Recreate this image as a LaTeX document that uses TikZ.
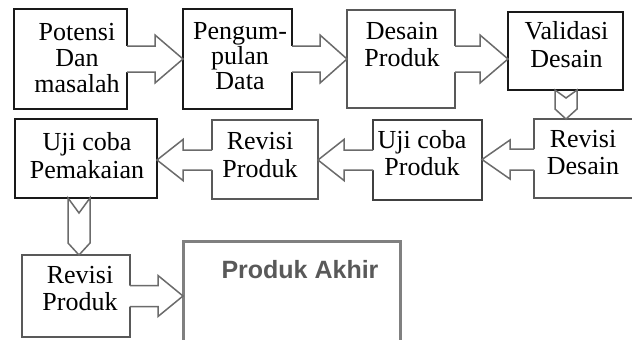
\documentclass[tikz,border=0pt]{standalone}
\usepackage{fontspec}
\setmainfont{Liberation Serif}
\setsansfont{Liberation Sans}
\usetikzlibrary{calc}
\tikzset{
  box/.style={draw=#1, line width=1.5pt, rectangle, inner sep=0pt, outer sep=0pt},
  txt/.style={align=center, anchor=north, inner sep=0pt, font=\fontsize{26}{27}\selectfont},
  arr/.style={draw=black!58, line width=1.5pt, line join=miter},
}
% rightward block arrow: from, to, y-coordinate, shaft half, head half, head length
\newcommand\rblock[6]{%
  \fill[white] ($(#1.east|-#3)+(-1.5,-#4)$) -- ($(#2.west|-#3)+(-#6,-#4)$) -- ($(#2.west|-#3)+(-#6,-#5)$) -- (#2.west|-#3) -- ($(#2.west|-#3)+(-#6,#5)$) -- ($(#2.west|-#3)+(-#6,#4)$) -- ($(#1.east|-#3)+(-1.5,#4)$) -- cycle;
  \draw[arr] ($(#1.east|-#3)+(0,-#4)$) -- ($(#2.west|-#3)+(-#6,-#4)$) -- ($(#2.west|-#3)+(-#6,-#5)$) -- (#2.west|-#3) -- ($(#2.west|-#3)+(-#6,#5)$) -- ($(#2.west|-#3)+(-#6,#4)$) -- ($(#1.east|-#3)+(0,#4)$);
}
% leftward block arrow
\newcommand\lblock[6]{%
  \fill[white] ($(#1.west|-#3)+(1.5,-#4)$) -- ($(#2.east|-#3)+(#6,-#4)$) -- ($(#2.east|-#3)+(#6,-#5)$) -- (#2.east|-#3) -- ($(#2.east|-#3)+(#6,#5)$) -- ($(#2.east|-#3)+(#6,#4)$) -- ($(#1.west|-#3)+(1.5,#4)$) -- cycle;
  \draw[arr] ($(#1.west|-#3)+(0,-#4)$) -- ($(#2.east|-#3)+(#6,-#4)$) -- ($(#2.east|-#3)+(#6,-#5)$) -- (#2.east|-#3) -- ($(#2.east|-#3)+(#6,#5)$) -- ($(#2.east|-#3)+(#6,#4)$) -- ($(#1.west|-#3)+(0,#4)$);
}
% downward notched arrow: from, to, x-coordinate, half width, notch depth, head length
\newcommand\dblock[6]{%
  \filldraw[arr, fill=white] ($(#1.south-|#3)+(-#4,0)$) -- ($(#1.south-|#3)+(0,#5)$) -- ($(#1.south-|#3)+(#4,0)$) -- ($(#2.north-|#3)+(#4,-#6)$) -- (#2.north-|#3) -- ($(#2.north-|#3)+(-#4,-#6)$) -- cycle;
}
\begin{document}
\begin{tikzpicture}[x=1pt, y=-1pt]
\useasboundingbox (0,0) rectangle (632,340);
\clip (0,0) rectangle (632,340);
\fill[white] (0,0) rectangle (632,340);

% boxes
\node[box=black!90, minimum width=113pt, minimum height=100pt] (b1) at (70.5,59) {};
\node[box=black!90, minimum width=109pt, minimum height=100pt] (b2) at (237.5,59) {};
\node[box=black!65, minimum width=108pt, minimum height=98pt] (b3) at (401,59) {};
\node[box=black!90, minimum width=115pt, minimum height=78pt] (b4) at (565.5,51) {};
\node[box=black!65, minimum width=116pt, minimum height=79pt] (b5) at (592,158.5) {};
\node[box=black!75, minimum width=109pt, minimum height=80pt] (b6) at (427.5,160) {};
\node[box=black!65, minimum width=106pt, minimum height=79pt] (b7) at (265,159.5) {};
\node[box=black!90, minimum width=142pt, minimum height=79pt] (b8) at (86,158.5) {};
\node[box=black!65, minimum width=108pt, minimum height=82pt] (b9) at (76,296) {};
\node[draw=black!50, line width=3pt, rectangle, inner sep=0pt, outer sep=0pt, minimum width=217pt, minimum height=119pt] (b10) at (291.5,300.5) {};

% helper coordinates for arrow axes
\coordinate (ra) at (0,59);
\coordinate (rb) at (0,159.5);
\coordinate (rc) at (0,160);
\coordinate (rd) at (0,296);
\coordinate (ca) at (566,0);
\coordinate (cb) at (79,0);

% connectors
\rblock{b1}{b2}{ra}{13}{24}{28}
\rblock{b2}{b3}{ra}{13}{24}{27}
\rblock{b3}{b4}{ra}{13}{24}{28}
\dblock{b4}{b5}{ca}{11}{8}{10}
\lblock{b5}{b6}{rb}{10.5}{19.5}{28}
\lblock{b6}{b7}{rc}{10}{20.5}{26}
\lblock{b7}{b8}{rc}{10}{20.5}{26}
\dblock{b8}{b9}{cb}{11}{15}{12}
\rblock{b9}{b10}{rd}{10.5}{20.5}{25}

% texts
\node[txt, font=\fontsize{26}{26}\selectfont] (t1) at (77,23.5) {Potensi\\Dan\\masalah};
\node[txt, font=\fontsize{26}{25}\selectfont] (t2) at (240,22.5) {Pengum-\\pulan\\Data};
\node[txt] (t3) at (402,22.5) {Desain\\Produk};
\node[txt, font=\fontsize{26}{28}\selectfont] (t4) at (566.5,21.5) {Validasi\\Desain};
\node[txt] (t5) at (583,130.5) {Revisi\\Desain};
\node[txt] (t6) at (422,130.5) {Uji coba\\Produk};
\node[txt, font=\fontsize{26}{28}\selectfont] (t7) at (260,132.5) {Revisi\\Produk};
\node[txt, font=\fontsize{26}{28}\selectfont] (t8) at (87,132.5) {Uji coba\\Pemakaian};
\node[txt] (t9) at (80,266.5) {Revisi\\Produk};
\node[anchor=base, inner sep=0pt, text=black!65, font=\sffamily\bfseries\fontsize{25}{28}\selectfont] (t10) at (300,278) {Produk Akhir};
\end{tikzpicture}
\end{document}
